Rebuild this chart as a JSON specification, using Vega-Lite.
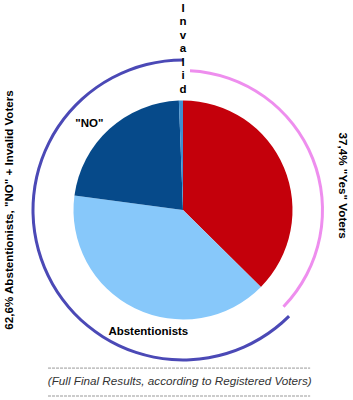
{
  "$schema": "https://vega.github.io/schema/vega-lite/v6.json",
  "width": 340,
  "height": 380,
  "padding": {"left": 13, "top": 20, "right": 0, "bottom": 0},
  "autosize": {"type": "none"},
  "background": "white",
  "config": {"view": {"stroke": null}, "font": "Liberation Sans"},
  "layer": [
    {
      "data": {"values": [
        {"category": "\"Yes\"", "start": 0, "end": 37.4},
        {"category": "Abstentionists", "start": 37.4, "end": 77.1},
        {"category": "\"NO\"", "start": 77.1, "end": 99.4},
        {"category": "Invalid", "start": 99.4, "end": 100}
      ]},
      "mark": {"type": "arc", "radius": 109.5, "radius2": 0},
      "encoding": {
        "theta": {"field": "start", "type": "quantitative", "scale": {"domain": [0, 100]}},
        "theta2": {"field": "end"},
        "color": {"field": "category", "type": "nominal", "legend": null,
          "scale": {"domain": ["\"Yes\"", "Abstentionists", "\"NO\"", "Invalid"], "range": ["#C4000B", "#87C8FA", "#064A8A", "#3F8FD0"]}}
      }
    },
    {
      "data": {"values": [{"group": "37,4% \"Yes\" Voters", "start": 0.8, "end": 37.2}]},
      "mark": {"type": "arc", "radius": 141, "radius2": 138, "color": "#EE8EEE"},
      "encoding": {
        "theta": {"field": "start", "type": "quantitative", "scale": {"domain": [0, 100]}},
        "theta2": {"field": "end"}
      }
    },
    {
      "data": {"values": [{"group": "62,6% Abstentionists, \"NO\" + Invalid Voters", "start": 37.5, "end": 100}]},
      "mark": {"type": "arc", "radius": 151.5, "radius2": 148.5, "color": "#4B49B6"},
      "encoding": {
        "theta": {"field": "start", "type": "quantitative", "scale": {"domain": [0, 100]}},
        "theta2": {"field": "end"}
      }
    },
    {
      "data": {"values": [
        {"label": "\"NO\"", "pos": 86.8},
        {"label": "Abstentionists", "pos": 54.4}
      ]},
      "mark": {"type": "text", "radius": 127, "fontWeight": "bold", "fontSize": 11.5, "color": "#000", "baseline": "middle", "align": "center"},
      "encoding": {
        "theta": {"field": "pos", "type": "quantitative", "stack": null, "scale": {"domain": [0, 100]}},
        "text": {"field": "label"}
      }
    },
    {
      "data": {"values": [{"label": "I\nn\nv\na\nl\ni\nd", "pos": 0}]},
      "mark": {"type": "text", "radius": 201.5, "fontWeight": "bold", "fontSize": 11.5, "lineBreak": "\n", "lineHeight": 13.5, "color": "#000", "baseline": "middle", "align": "center"},
      "encoding": {
        "theta": {"field": "pos", "type": "quantitative", "stack": null, "scale": {"domain": [0, 100]}},
        "text": {"field": "label"}
      }
    },
    {
      "data": {"values": [{"label": "62,6% Abstentionists, \"NO\" + Invalid Voters", "pos": 75}]},
      "mark": {"type": "text", "radius": 173, "angle": 270, "fontWeight": "bold", "fontSize": 11.6, "color": "#000", "baseline": "middle", "align": "center"},
      "encoding": {
        "theta": {"field": "pos", "type": "quantitative", "stack": null, "scale": {"domain": [0, 100]}},
        "text": {"field": "label"}
      }
    },
    {
      "data": {"values": [{"label": "37,4% \"Yes\" Voters", "pos": 22.6}]},
      "mark": {"type": "text", "radius": 162, "angle": 90, "fontWeight": "bold", "fontSize": 11.7, "color": "#000", "baseline": "middle", "align": "center"},
      "encoding": {
        "theta": {"field": "pos", "type": "quantitative", "stack": null, "scale": {"domain": [0, 100]}},
        "text": {"field": "label"}
      }
    },
    {
      "data": {"values": [{"label": "(Full Final Results, according to Registered Voters)", "pos": 50.3}]},
      "mark": {"type": "text", "radius": 171, "fontStyle": "italic", "fontSize": 11.7, "color": "#333", "baseline": "middle", "align": "center"},
      "encoding": {
        "theta": {"field": "pos", "type": "quantitative", "stack": null, "scale": {"domain": [0, 100]}},
        "text": {"field": "label"}
      }
    },
    {
      "data": {"values": [
        {"from": 10.3, "to": 87.4, "level": 8.4},
        {"from": 10.3, "to": 87.4, "level": 1.05}
      ]},
      "mark": {"type": "rule", "color": "#999", "strokeWidth": 1, "strokeDash": [3, 1]},
      "encoding": {
        "x": {"field": "from", "type": "quantitative", "scale": {"domain": [0, 100]}, "axis": null},
        "x2": {"field": "to"},
        "y": {"field": "level", "type": "quantitative", "scale": {"domain": [0, 100]}, "axis": null}
      }
    }
  ]
}
